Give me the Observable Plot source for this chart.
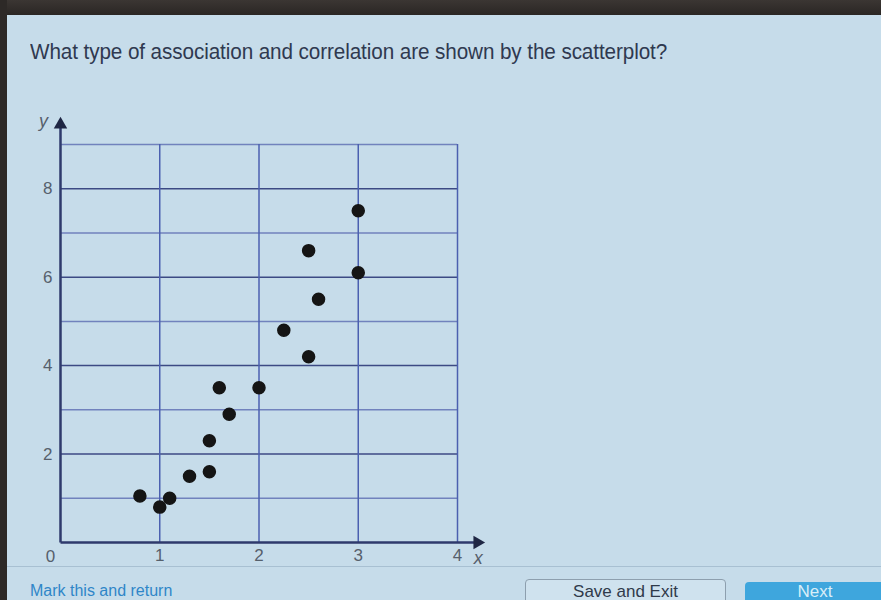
<!DOCTYPE html>
<html>
<head>
<meta charset="utf-8">
<script src="https://cdn.jsdelivr.net/npm/d3@7"></script>
<script src="https://cdn.jsdelivr.net/npm/@observablehq/plot@0.6"></script>
<style>
  html, body { margin: 0; padding: 0; }
  body { width: 881px; height: 600px; overflow: hidden; position: relative; background: #c6dcea; font-family: "Liberation Sans", Arial, sans-serif; }
  #topband { position: absolute; left: 0; top: 0; width: 881px; height: 15px; background: linear-gradient(#3b3633, #2a2624); }
  #leftband { position: absolute; left: 0; top: 0; width: 7px; height: 600px; background: #2d2927; }
  #title { position: absolute; left: 30px; top: 39px; font-size: 22px; color: #2f3950; white-space: nowrap; transform: scaleX(0.94); transform-origin: left top; letter-spacing: -0.1px; }
  #chart { position: absolute; left: 0; top: 100px; }
  #rule { position: absolute; left: 7px; top: 566px; width: 874px; height: 1px; background: #a8c0d2; }
  #mark { position: absolute; left: 30px; top: 582px; font-size: 16px; line-height: 18px; color: #2f86c8; }
  #save { position: absolute; left: 525px; top: 579px; width: 201px; height: 40px; border: 1.5px solid #8d9fae; border-radius: 4px; background: #cfe2ee; box-sizing: border-box; }
  #save span { position: absolute; left: 0; right: 0; top: 3px; text-align: center; font-size: 17px; line-height: 18px; color: #2f3a4a; }
  #next { position: absolute; left: 745px; top: 582px; width: 140px; height: 40px; border-radius: 4px; background: #3ea6dd; }
  #next span { position: absolute; left: 0; right: 0; top: 1px; text-align: center; font-size: 17px; line-height: 18px; color: #d8eef8; }
</style>
</head>
<body>
<div id="topband"></div>
<div id="leftband"></div>
<div id="title">What type of association and correlation are shown by the scatterplot?</div>
<div id="chart"></div>
<div id="rule"></div>
<div id="mark">Mark this and return</div>
<div id="save"><span>Save and Exit</span></div>
<div id="next"><span>Next</span></div>
<script>
// Data read from the scatterplot
const xs = [3.0, 2.5, 3.0, 2.6, 2.25, 2.5, 1.6, 2.0, 1.7, 1.5, 1.5, 1.3, 0.8, 1.1, 1.0];
const ys = [7.5, 6.6, 6.1, 5.5, 4.8, 4.2, 3.5, 3.5, 2.9, 2.3, 1.6, 1.5, 1.05, 1.0, 0.8];

const xDomain = [0, 4];
const yDomain = [0, 9];
const xTicks = [1, 2, 3, 4];
const yTicks = [2, 4, 6, 8];
const yMinor = [1, 3, 5, 7, 9];
const xGrid = [1, 2, 3, 4];
const axisEnds = {x: 4.2, y: 9.45};

const points = xs.map((x, i) => ({x, y: ys[i]}));

const chart = Plot.plot({
  width: 881,
  height: 468,
  marginLeft: 60,
  marginRight: 424,
  marginTop: 44,
  marginBottom: 26,
  x: {domain: xDomain},
  y: {domain: yDomain},
  style: {background: "transparent", fontFamily: "'Liberation Sans', Arial, sans-serif"},
  marks: [
    Plot.ruleY(yMinor, {x1: xDomain[0], x2: xDomain[1], stroke: "#7182bd", strokeWidth: 1.5}),
    Plot.ruleY(yTicks, {x1: xDomain[0], x2: xDomain[1], stroke: "#3c4a84", strokeWidth: 1.5}),
    Plot.ruleX(xGrid, {y1: yDomain[0], y2: yDomain[1], stroke: "#4b60b0", strokeWidth: 1.5}),
    // axes with arrows
    Plot.link([{x1: xDomain[0], y1: 0, x2: axisEnds.x, y2: 0}], {x1: "x1", y1: "y1", x2: "x2", y2: "y2", stroke: "#2e3a6c", strokeWidth: 2.5}),
    Plot.link([{x1: 0, y1: yDomain[0], x2: 0, y2: axisEnds.y}], {x1: "x1", y1: "y1", x2: "x2", y2: "y2", stroke: "#2e3a6c", strokeWidth: 2.5}),
    Plot.dot([{x: axisEnds.x, y: 0}], {x: "x", y: "y", symbol: "triangle", r: 5, fill: "#1f2744", rotate: 90}),
    Plot.dot([{x: 0, y: axisEnds.y}], {x: "x", y: "y", symbol: "triangle", r: 5, fill: "#1f2744"}),
    Plot.axisX(xTicks, {tickSize: 0, tickPadding: 6, fontSize: 17, fill: "#56606c", label: null}),
    Plot.axisY(yTicks, {tickSize: 0, tickPadding: 8, fontSize: 17, fill: "#56606c", label: null}),
    Plot.text([{x: 0, y: 0, t: "0"}], {x: "x", y: "y", text: "t", dx: -10, dy: 14, fontSize: 17, fill: "#56606c"}),
    Plot.text([{x: axisEnds.x, y: 0, t: "x"}], {x: "x", y: "y", text: "t", dx: 1, dy: 16, fontSize: 18, fill: "#56606c", fontStyle: "italic"}),
    Plot.text([{x: 0, y: axisEnds.y, t: "y"}], {x: "x", y: "y", text: "t", dx: -17, dy: -3, fontSize: 18, fill: "#56606c", fontStyle: "italic"}),
    Plot.dot(points, {x: "x", y: "y", r: 6, fill: "#151515", stroke: "#151515"})
  ]
});
document.getElementById("chart").appendChild(chart);
</script>
</body>
</html>
